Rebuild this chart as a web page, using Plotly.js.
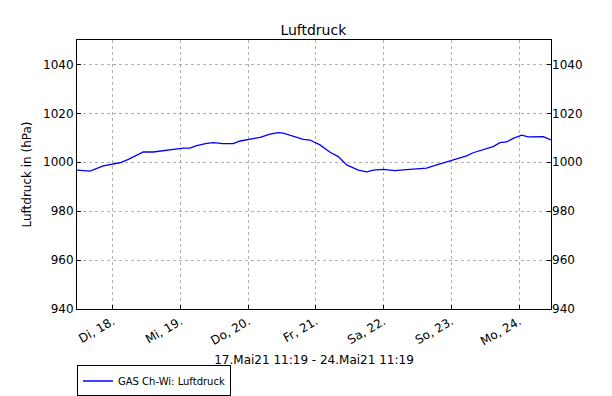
<!DOCTYPE html>
<html><head><meta charset="utf-8">
<script src="https://cdn.plot.ly/plotly-3.0.1.min.js"></script>
<style>body{margin:0;padding:0;background:#fff}#chart{width:612px;height:396px}</style>
</head><body><div id="chart"></div>
<script>
const times = [
 '2021-05-17 11:19','2021-05-17 15:55','2021-05-17 20:38','2021-05-17 23:37',
 '2021-05-18 02:31','2021-05-18 05:31','2021-05-18 08:31','2021-05-18 10:49',
 '2021-05-18 14:19','2021-05-18 17:55','2021-05-18 21:25','2021-05-19 01:01',
 '2021-05-19 03:19','2021-05-19 05:43','2021-05-19 09:19','2021-05-19 11:37',
 '2021-05-19 15:07','2021-05-19 18:43','2021-05-19 21:07','2021-05-20 00:37',
 '2021-05-20 04:13','2021-05-20 07:43','2021-05-20 10:37','2021-05-20 12:25',
 '2021-05-20 16:01','2021-05-20 19:31','2021-05-20 21:55','2021-05-21 01:25',
 '2021-05-21 05:01','2021-05-21 07:55','2021-05-21 10:55','2021-05-21 15:01',
 '2021-05-21 18:01','2021-05-21 20:19','2021-05-21 23:55','2021-05-22 04:01',
 '2021-05-22 08:07','2021-05-22 11:43','2021-05-22 15:13','2021-05-22 18:49',
 '2021-05-22 22:19','2021-05-23 00:43','2021-05-23 05:25','2021-05-23 07:43',
 '2021-05-23 11:19','2021-05-23 14:49','2021-05-23 17:13','2021-05-23 19:37',
 '2021-05-23 21:55','2021-05-24 00:55','2021-05-24 03:13','2021-05-24 06:13',
 '2021-05-24 08:37','2021-05-24 11:19'
];
const pressure = [
 996.8,996.4,998.5,999.3,
 999.8,1001.2,1003.0,1004.2,
 1004.2,1004.7,1005.4,1005.8,
 1005.8,1006.8,1007.7,1008.0,
 1007.6,1007.6,1008.7,1009.5,
 1010.2,1011.5,1012.1,1011.9,
 1010.7,1009.4,1009.1,1007.1,
 1004.1,1002.3,998.9,996.8,
 996.1,996.8,997.1,996.6,
 997.0,997.4,997.6,998.9,
 1000.1,1001.2,1002.6,1003.9,
 1005.3,1006.4,1008.0,1008.3,
 1009.8,1011.1,1010.4,1010.4,
 1010.5,1009.1
];
const tickDates = ['2021-05-18','2021-05-19','2021-05-20','2021-05-21','2021-05-22','2021-05-23','2021-05-24'];
const tickLabels = ['Di, 18.','Mi, 19.','Do, 20.','Fr, 21.','Sa, 22.','So, 23.','Mo, 24.'];
const yTicks = [940,960,980,1000,1020,1040];

const font = {family:'DejaVu Sans, sans-serif', size:12, color:'#000'};
const data = [
 {x:times, y:pressure, type:'scatter', mode:'lines', name:'GAS Ch-Wi: Luftdruck',
  line:{color:'#0000ff', width:1.3}},
 {x:times, y:pressure, type:'scatter', mode:'lines', yaxis:'y2', showlegend:false,
  hoverinfo:'skip', line:{color:'rgba(0,0,0,0)', width:0}}
];
const layout = {
 width:612, height:396,
 margin:{l:77, r:61, t:40, b:87, autoexpand:false},
 paper_bgcolor:'#fff', plot_bgcolor:'#fff',
 font:font,
 title:{text:'Luftdruck', font:{family:font.family, size:14, color:'#000'}, x:0.512, xanchor:'center', y:0.925, yanchor:'middle'},
 xaxis:{type:'date', range:['2021-05-17 11:19','2021-05-24 11:19'], automargin:false,
  tickmode:'array', tickvals:tickDates, ticktext:tickLabels, tickangle:-30,
  showgrid:true, gridcolor:'#b0b0b0', griddash:'dot', gridwidth:1,
  showline:true, linecolor:'#000', linewidth:1, mirror:true,
  ticks:'inside', ticklen:4, tickcolor:'#000',
  tickfont:font, zeroline:false,
  title:{text:'17.Mai21 11:19 - 24.Mai21 11:19', font:font, standoff:8}},
 yaxis:{range:[940,1050], tickmode:'array', tickvals:yTicks, automargin:false,
  showgrid:true, gridcolor:'#b0b0b0', griddash:'dot', gridwidth:1,
  showline:true, linecolor:'#000', linewidth:1, mirror:true,
  ticks:'inside', ticklen:4, tickcolor:'#000', zeroline:false,
  tickfont:font, title:{text:'Luftdruck in (hPa)', font:font, standoff:8}},
 yaxis2:{range:[940,1050], tickmode:'array', tickvals:yTicks, overlaying:'y', side:'right', automargin:false,
  showgrid:false, zeroline:false, ticks:'inside', ticklen:4, tickcolor:'#000', tickfont:font},
 showlegend:true,
 legend:{x:0, xanchor:'left', y:-0.21, yanchor:'top', bordercolor:'#000', borderwidth:1,
  bgcolor:'#fff', font:{family:font.family, size:10, color:'#000'}}
};
Plotly.newPlot('chart', data, layout, {displayModeBar:false, staticPlot:true});
</script>
</body></html>
